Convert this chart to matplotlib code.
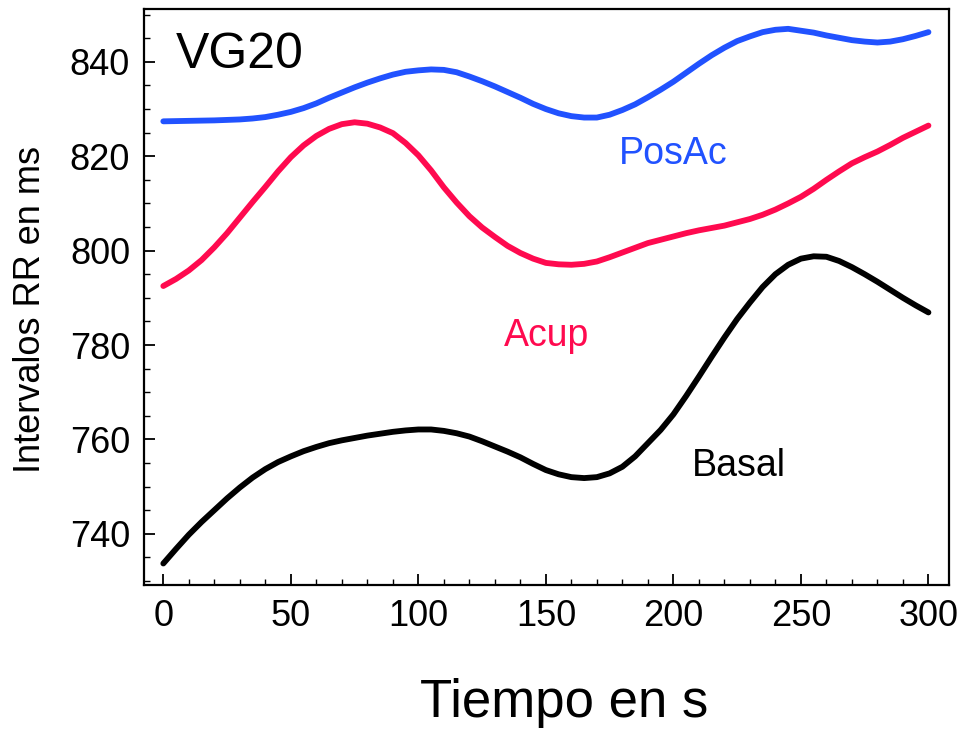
import matplotlib
matplotlib.use("Agg")
import matplotlib.pyplot as plt
from matplotlib.ticker import MultipleLocator

# tiempo en s, valores leídos cada 5 s
tiempo = list(range(0, 301, 5))

posac = [827.4, 827.45, 827.5, 827.55, 827.6, 827.7, 827.8, 828.0, 828.3, 828.8,
         829.4, 830.2, 831.2, 832.4, 833.5, 834.6, 835.6, 836.5, 837.3, 837.9,
         838.2, 838.4, 838.3, 837.8, 836.9, 835.9, 834.8, 833.6, 832.4, 831.1,
         830.0, 829.1, 828.5, 828.2, 828.2, 828.8, 829.8, 831.0, 832.5, 834.1,
         835.8, 837.7, 839.6, 841.4, 843.0, 844.4, 845.4, 846.3, 846.8, 847.0,
         846.6, 846.2, 845.6, 845.1, 844.6, 844.3, 844.1, 844.3, 844.8, 845.5,
         846.3]

acup = [792.5, 794.0, 795.8, 798.0, 800.7, 803.7, 807.0, 810.3, 813.5, 816.8,
        819.8, 822.3, 824.3, 825.8, 826.8, 827.2, 826.9, 826.1, 824.9, 822.8,
        820.2, 817.0, 813.4, 810.2, 807.3, 804.9, 802.9, 801.0, 799.5, 798.3,
        797.4, 797.1, 797.0, 797.2, 797.7, 798.6, 799.6, 800.6, 801.6, 802.3,
        803.0, 803.7, 804.3, 804.8, 805.3, 806.0, 806.7, 807.6, 808.7, 810.0,
        811.4, 813.1, 815.0, 816.8, 818.5, 819.8, 821.0, 822.4, 823.9, 825.2,
        826.5]

basal = [733.7, 736.8, 739.8, 742.5, 745.0, 747.5, 749.8, 751.9, 753.7, 755.2,
         756.4, 757.5, 758.4, 759.2, 759.8, 760.3, 760.8, 761.2, 761.6, 761.9,
         762.1, 762.1, 761.8, 761.3, 760.6, 759.6, 758.5, 757.4, 756.2, 754.8,
         753.5, 752.6, 752.0, 751.8, 752.0, 752.8, 754.2, 756.4, 759.2, 762.0,
         765.3, 769.2, 773.3, 777.5, 781.6, 785.5, 789.0, 792.3, 795.0, 797.0,
         798.3, 798.8, 798.7, 797.8, 796.5, 795.0, 793.4, 791.7, 790.0, 788.4,
         786.9]

plt.rcParams['font.family'] = ['Liberation Sans', 'DejaVu Sans']

fig = plt.figure(figsize=(9.66, 7.3), dpi=100)
ax = fig.add_axes([0.149, 0.199, 0.8335, 0.788])

azul = '#2152ff'
rojo = '#ff0a4f'
ax.plot(tiempo, posac, color=azul, lw=4.2, solid_capstyle='round', solid_joinstyle='round')
ax.plot(tiempo, acup, color=rojo, lw=4.2, solid_capstyle='round', solid_joinstyle='round')
ax.plot(tiempo, basal, color='black', lw=4.2, solid_capstyle='round', solid_joinstyle='round')

ax.text(5, 838.6, 'VG20', fontsize=36, color='black')
ax.text(178.8, 818.4, 'PosAc', fontsize=27, color=azul)
ax.text(133.4, 779.8, 'Acup', fontsize=27, color=rojo)
ax.text(207.4, 752.3, 'Basal', fontsize=27, color='black')

ax.set_xlim(-7.6, 308.1)
ax.set_ylim(729.2, 851.1)
ax.xaxis.set_major_locator(MultipleLocator(50))
ax.xaxis.set_minor_locator(MultipleLocator(10))
ax.yaxis.set_major_locator(MultipleLocator(20))
ax.yaxis.set_minor_locator(MultipleLocator(5))
ax.tick_params(which='major', direction='in', length=8, width=1.3, labelsize=26, pad=10)
ax.tick_params(which='minor', direction='in', length=4, width=1.0)
ax.tick_params(top=False, right=False, which='both')
for s in ax.spines.values():
    s.set_linewidth(1.6)

ax.set_xlabel('Tiempo en s', fontsize=38)
ax.set_ylabel('Intervalos RR en ms', fontsize=26)
ax.xaxis.set_label_coords(0.522, -0.163)
ax.yaxis.set_label_coords(-0.119, 0.478)

fig.savefig('out.png', dpi=100)
